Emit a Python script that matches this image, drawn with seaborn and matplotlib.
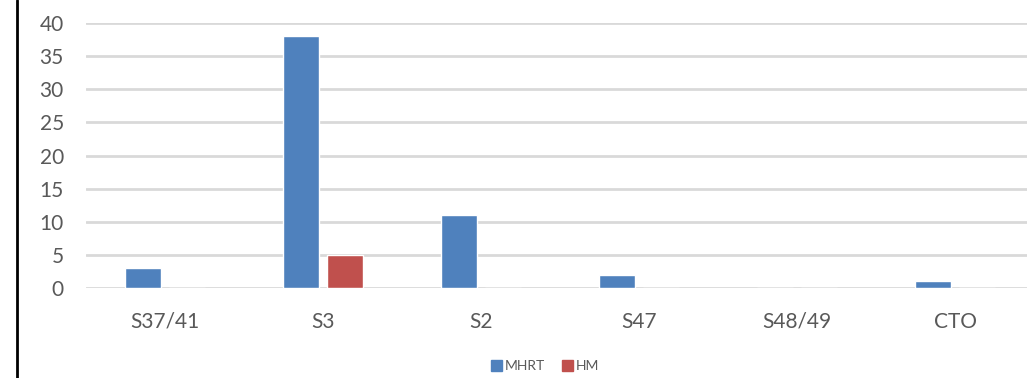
import pandas as pd
import numpy as np
import matplotlib
matplotlib.use('Agg')
import matplotlib.pyplot as plt
from matplotlib.lines import Line2D
import seaborn as sns

categories = ['S37/41', 'S3', 'S2', 'S47', 'S48/49', 'CTO']
mhrt = [3, 38, 11, 2, 0, 1]
hm = [0, 5, 0, 0, 0, 0]
series = ['MHRT', 'HM']
colors = ['#4F81BD', '#C0504D']

df = pd.DataFrame({
    'cat': categories * 2,
    'value': mhrt + hm,
    'series': ['MHRT'] * len(categories) + ['HM'] * len(categories),
})

sns.set_style('white')
plt.rcParams['font.family'] = ['Lato', 'DejaVu Sans']

fig = plt.figure(figsize=(10.27, 3.78), dpi=100)
# plot area runs a little past the right edge of the picture
ax = fig.add_axes([86 / 1027, 90 / 378, 948 / 1027, 265 / 378])

sns.barplot(data=df, x='cat', y='value', hue='series', order=categories,
            hue_order=series, palette=colors, width=0.56, gap=0.2,
            saturation=1, ax=ax, legend=False)

ax.set_ylim(0, 40)
ax.set_xlim(-0.5, len(categories) - 0.5)
ax.set_yticks(np.arange(0, 41, 5))
ax.yaxis.grid(True, color='#D9D9D9', linewidth=2)
ax.set_axisbelow(True)
for s in ax.spines.values():
    s.set_visible(False)
ax.tick_params(axis='both', length=0, labelsize=15, colors='#595959')
ax.tick_params(axis='y', pad=16)
ax.tick_params(axis='x', pad=17)
ax.set_xlabel('')
ax.set_ylabel('')

handles = [plt.Rectangle((0, 0), 1, 1, color=c) for c in colors]
fig.legend(handles, series, loc='center', bbox_to_anchor=(545 / 1027, 12 / 378),
           ncol=2, frameon=False, fontsize=10, labelcolor='#595959',
           handlelength=0.8, handleheight=0.8, handletextpad=0.2,
           columnspacing=1.2)

fig.add_artist(Line2D([17 / 1027, 17 / 1027], [0, 1], color='black', linewidth=2))

plt.savefig('out.png', dpi=100)
plt.close()
